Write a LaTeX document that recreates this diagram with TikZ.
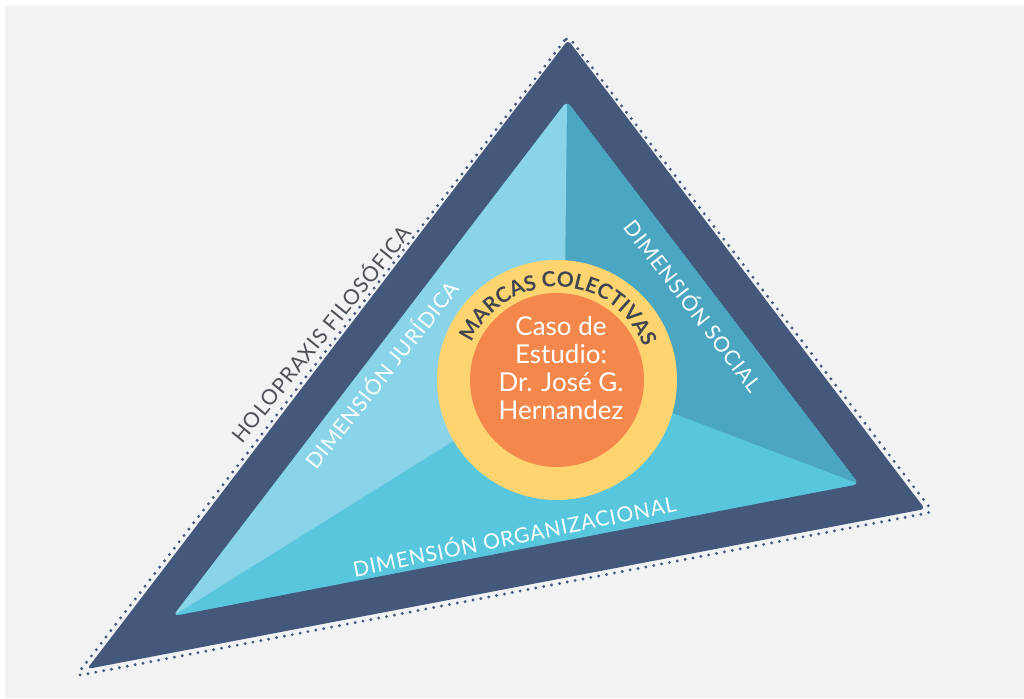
\documentclass[tikz,border=0pt]{standalone}
\usepackage{fontspec}
\setmainfont{Lato}
\newfontfamily\dimfont{Lato}[LetterSpace=4]
\usetikzlibrary{decorations.text}

\definecolor{bgGray}{HTML}{F1F2F4}
\definecolor{navy}{HTML}{43587A}
\definecolor{skyLight}{HTML}{89D4E8}
\definecolor{tealDark}{HTML}{4BA6C2}
\definecolor{cyanMid}{HTML}{58C7DD}
\definecolor{sunYellow}{HTML}{FDD470}
\definecolor{coreOrange}{HTML}{F4884C}
\definecolor{inkGray}{HTML}{3E4450}
\definecolor{labelGray}{HTML}{4B4F56}

\begin{document}
\begin{tikzpicture}[x=1pt, y=1pt,
		dotrim/.style={navy, line width=3.2pt, line cap=round, dash pattern=on 0pt off 8pt},
		dimlabel/.style={text=white, inner sep=0pt, font=\dimfont\fontsize{21}{21}\selectfont}]
		\useasboundingbox (0,0) rectangle (1024,698);
		\fill[bgGray] (5,0) rectangle (1024,692);
		
		\coordinate (dotA) at (568,662);
		\coordinate (dotB) at (76,22);
		\coordinate (dotC) at (933,186);
		\coordinate (outA) at (568,658);
		\coordinate (outB) at (87,29);
		\coordinate (outC) at (925,189);
		\coordinate (inA) at (567,597);
		\coordinate (inB) at (173,82);
		\coordinate (inC) at (859,214);
		\coordinate (mid) at (564,326);
		
		\draw[dotrim, rounded corners=6pt] (dotA) -- (dotB) -- (dotC) -- cycle;
		\fill[navy, rounded corners=4pt] (outA) -- (outB) -- (outC) -- cycle;
		
		% three faces of the inner triangle
		\begin{scope}
			\clip[rounded corners=6pt] (inA) -- (inB) -- (inC) -- cycle;
			\fill[tealDark] (inA) -- (inB) -- (inC) -- cycle;
			\fill[cyanMid] (inB) -- (mid) -- (inC) -- cycle;
			\fill[skyLight] (inA) -- (inB) -- (mid) -- cycle;
		\end{scope}
		
		\node[circle, fill=sunYellow, minimum size=240pt, inner sep=0pt] (ring) at (557,318) {};
		\node[circle, fill=coreOrange, minimum size=174pt, inner sep=0pt] (core) at (ring.center) {};
		\node[align=center, text=white, font=\fontsize{26}{28}\selectfont] (caso) at (561,330) {Caso de\\Estudio:\\Dr. José G.\\Hernandez};
		\path[decorate, decoration={text along path, text align=center, text color=inkGray,
			text={|\fontsize{21}{21}\selectfont\bfseries|MARCAS COLECTIVAS}}]
			(ring.center) ++(158:93pt) arc[start angle=158, end angle=19, radius=93pt];
		
		\node[dimlabel, rotate=51.5] (jur) at (381,324) {DIMENSIÓN JURÍDICA};
		\node[dimlabel, rotate=-52.4] (soc) at (694,393) {DIMENSIÓN SOCIAL};
		\node[dimlabel, rotate=11.5] (org) at (514,163) {DIMENSIÓN ORGANIZACIONAL};
		\node[dimlabel, text=labelGray, rotate=51] (holo) at (320,365) {HOLOPRAXIS FILOSÓFICA};
	\end{tikzpicture}
\end{document}
